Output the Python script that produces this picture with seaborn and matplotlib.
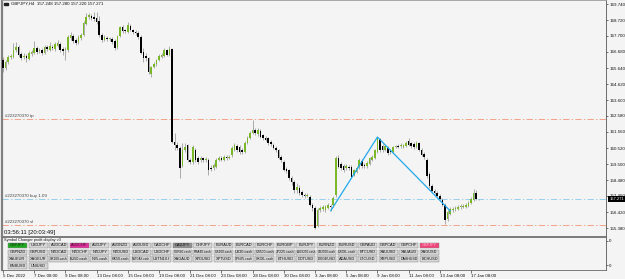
import numpy as np
import matplotlib
matplotlib.use("Agg")
import matplotlib.pyplot as plt
from matplotlib.patches import Rectangle
import seaborn as sns

# ---------------- data ----------------
symbol_title = "GBPJPY,H4  157.248 157.280 157.220 157.271"
timer_text = "03:56:11 [20:03:49]"
order_id = "#223270370"

opens = [166.16, 165.65, 166.03, 166.35, 166.35, 166.80, 166.99, 166.54, 166.35, 166.42,
         166.22, 166.54, 166.61, 166.93, 166.74, 166.80, 166.61, 166.99, 166.80, 166.99,
         166.86, 167.06, 167.18, 166.86, 166.80, 166.80, 167.57, 167.70, 167.44, 167.31,
         167.57, 167.76, 168.46, 168.91, 168.98, 168.91, 168.85, 168.66, 167.76, 167.44,
         167.57, 167.50, 167.50, 167.38, 166.99, 167.70, 168.27, 168.08, 167.95, 168.34,
         168.08, 167.95, 167.89, 167.63, 166.67, 166.42, 166.29, 165.26, 165.71, 165.90,
         166.16, 166.35, 166.42, 166.80, 166.48, 166.86, 160.91, 160.72, 160.53, 159.38,
         160.40, 160.72, 159.76, 159.63, 160.40, 159.89, 159.76, 159.89, 159.76, 159.76,
         159.25, 159.25, 159.31, 159.76, 159.89, 159.76, 159.95, 159.89, 160.08, 160.40,
         160.66, 160.59, 160.40, 160.27, 160.85, 161.17, 161.49, 161.68, 161.42, 161.62,
         161.36, 161.17, 161.17, 160.91, 160.72, 160.53, 160.40, 159.95, 159.63, 159.18,
         159.12, 158.61, 158.35, 157.84, 157.97, 157.71, 157.52, 157.46, 157.39, 156.88,
         156.69, 155.54, 156.56, 156.62, 156.56, 156.69, 156.82, 156.88, 157.52, 159.89,
         159.50, 159.38, 159.25, 159.31, 159.31, 158.80, 158.99, 159.31, 159.70, 159.44,
         159.38, 159.50, 159.76, 159.89, 160.27, 161.10, 160.66, 160.40, 160.53, 160.34,
         160.27, 160.59, 160.66, 160.66, 160.59, 160.66, 160.98, 160.85, 160.78, 160.59,
         160.85, 160.40, 160.14, 159.76, 158.86, 158.10, 157.78, 157.65, 157.46, 157.20,
         156.88, 155.98, 156.30, 156.56, 156.62, 156.62, 156.75, 156.75, 156.75, 156.82,
         157.01, 157.20, 157.65, 157.248]
highs = [166.35, 166.16, 166.48, 166.54, 167.25, 167.31, 167.12, 166.67, 166.61, 166.54,
         166.74, 166.80, 167.38, 167.06, 166.93, 166.93, 167.12, 167.12, 167.31, 167.12,
         167.31, 167.44, 167.31, 166.99, 166.99, 167.76, 167.95, 167.82, 167.57, 167.76,
         167.89, 168.66, 169.17, 169.17, 169.10, 169.23, 169.23, 168.98, 167.89, 167.76,
         167.70, 167.63, 167.63, 167.50, 167.76, 168.34, 168.40, 168.14, 168.59, 168.46,
         168.14, 168.08, 168.02, 167.76, 166.93, 166.61, 166.35, 165.78, 166.03, 166.22,
         166.54, 166.61, 166.93, 166.86, 167.06, 166.93, 161.49, 160.91, 160.66, 160.85,
         160.85, 160.78, 159.89, 160.72, 160.53, 160.02, 160.02, 159.95, 159.95, 159.89,
         159.44, 159.57, 159.89, 160.02, 160.02, 160.08, 160.08, 160.08, 160.66, 160.85,
         160.78, 160.72, 160.53, 160.98, 161.30, 161.62, 162.32, 161.81, 161.81, 161.74,
         161.42, 161.30, 161.23, 161.04, 160.85, 160.66, 160.46, 160.08, 159.76, 159.31,
         159.18, 158.74, 158.48, 158.29, 158.16, 157.84, 157.65, 157.65, 157.52, 157.01,
         156.82, 156.69, 156.82, 156.88, 156.88, 157.01, 156.94, 157.46, 160.02, 160.08,
         159.63, 159.50, 159.50, 159.44, 159.44, 159.18, 159.38, 159.89, 159.82, 159.57,
         159.70, 159.95, 160.08, 160.46, 161.23, 161.17, 160.78, 160.72, 160.66, 160.46,
         160.66, 160.72, 160.78, 160.85, 160.78, 160.98, 161.17, 160.91, 160.91, 160.98,
         160.91, 160.53, 160.27, 159.89, 158.99, 158.22, 157.90, 157.78, 157.58, 157.33,
         157.01, 156.56, 156.75, 156.75, 156.82, 156.88, 156.94, 156.94, 157.01, 157.14,
         157.39, 157.90, 157.84, 157.280]
lows = [165.39, 165.52, 165.90, 166.22, 166.29, 166.67, 166.35, 166.16, 166.22, 166.03,
        166.16, 166.42, 166.54, 166.54, 166.61, 166.48, 166.54, 166.74, 166.74, 166.80,
        166.74, 166.99, 166.67, 166.48, 166.16, 166.67, 167.44, 167.25, 167.12, 167.18,
        167.44, 167.70, 168.40, 168.78, 168.72, 168.66, 168.46, 167.63, 167.31, 167.38,
        167.38, 167.38, 167.18, 166.80, 166.86, 167.63, 167.89, 167.89, 167.89, 168.02,
        167.82, 167.76, 167.50, 166.54, 166.03, 166.10, 165.26, 165.07, 165.65, 165.78,
        166.10, 166.29, 166.35, 166.42, 166.42, 160.85, 160.40, 160.40, 158.61, 159.31,
        160.27, 159.63, 159.50, 159.50, 159.63, 159.50, 159.63, 159.63, 159.63, 158.80,
        159.06, 159.12, 159.25, 159.70, 159.70, 159.70, 159.76, 159.82, 159.95, 160.34,
        160.27, 160.14, 160.14, 160.21, 160.78, 161.10, 161.42, 161.36, 161.30, 161.17,
        161.04, 160.98, 160.72, 160.66, 160.46, 160.27, 159.82, 159.63, 159.06, 158.93,
        158.48, 158.16, 157.65, 157.65, 157.52, 157.39, 157.33, 157.39, 156.82, 156.50,
        155.34, 155.47, 156.43, 156.50, 156.43, 156.62, 156.50, 156.75, 157.39, 159.25,
        159.12, 158.99, 159.12, 159.12, 158.61, 158.74, 158.93, 159.18, 159.25, 159.25,
        159.25, 159.44, 159.70, 159.82, 160.21, 160.27, 160.27, 160.34, 160.08, 160.14,
        160.21, 160.53, 160.53, 160.53, 160.53, 160.59, 160.66, 160.53, 160.46, 160.53,
        160.34, 160.02, 159.82, 158.61, 157.97, 157.71, 157.58, 157.39, 157.20, 156.82,
        155.66, 155.86, 156.24, 156.43, 156.50, 156.56, 156.62, 156.69, 156.69, 156.75,
        156.94, 157.14, 157.20, 157.220]
closes = [165.65, 166.03, 166.35, 166.42, 166.80, 166.99, 166.48, 166.29, 166.42, 166.29,
          166.61, 166.67, 166.93, 166.67, 166.80, 166.61, 166.99, 166.86, 167.06, 166.93,
          167.18, 167.25, 166.80, 166.74, 166.86, 167.63, 167.76, 167.38, 167.25, 167.63,
          167.76, 168.53, 168.91, 169.04, 168.85, 168.78, 168.59, 167.76, 167.44, 167.63,
          167.50, 167.57, 167.31, 166.93, 167.70, 168.27, 168.02, 168.02, 168.40, 168.08,
          167.95, 167.89, 167.63, 166.61, 166.29, 166.29, 165.39, 165.71, 165.90, 166.16,
          166.42, 166.48, 166.80, 166.48, 166.86, 160.91, 160.72, 160.53, 159.25, 160.40,
          160.59, 159.76, 159.63, 160.59, 159.76, 159.63, 159.89, 159.76, 159.82, 159.12,
          159.18, 159.44, 159.76, 159.89, 159.76, 159.95, 159.89, 159.95, 160.53, 160.72,
          160.40, 160.27, 160.27, 160.85, 161.17, 161.49, 161.68, 161.49, 161.68, 161.23,
          161.17, 161.04, 160.85, 160.78, 160.53, 160.40, 159.89, 159.76, 159.12, 159.06,
          158.61, 158.35, 157.84, 158.03, 157.65, 157.52, 157.46, 157.52, 156.88, 156.69,
          155.41, 156.56, 156.69, 156.75, 156.75, 156.88, 156.75, 157.33, 159.89, 159.31,
          159.25, 159.12, 159.38, 159.25, 158.67, 159.12, 159.25, 159.76, 159.38, 159.38,
          159.57, 159.89, 159.95, 160.40, 161.17, 160.40, 160.40, 160.66, 160.21, 160.27,
          160.59, 160.66, 160.59, 160.72, 160.72, 160.85, 160.72, 160.66, 160.59, 160.85,
          160.40, 160.08, 159.95, 158.74, 158.10, 157.78, 157.65, 157.46, 157.26, 156.88,
          155.92, 156.43, 156.62, 156.62, 156.69, 156.75, 156.82, 156.82, 156.88, 157.01,
          157.26, 157.65, 157.26, 157.271]

date_labels = ["5 Dec 2022", "7 Dec 08:00", "9 Dec 08:00", "13 Dec 08:00", "15 Dec 08:00",
               "19 Dec 08:00", "21 Dec 08:00", "23 Dec 08:00", "28 Dec 08:00", "30 Dec 08:00",
               "3 Jan 08:00", "5 Jan 08:00", "9 Jan 08:00", "11 Jan 08:00", "13 Jan 08:00",
               "17 Jan 08:00"]
bars_per_label = 12

price_ticks = [169.740, 168.720, 167.700, 166.680, 165.640, 164.620, 163.600, 162.580,
               161.560, 160.520, 159.500, 158.480, 157.460, 156.420, 155.380]
current_price = 157.271
tp_price = 162.38
buy_price = 157.26
sl_price = 155.60
buy_text = "buy 1.09"

zigzag_bar = [126, 144, 172]
zigzag_price = [156.50, 161.23, 156.50]

button_rows = [
    ["GBPJPY", "USDJPY", "AUDCAD", "AUDCHF", "AUDJPY", "AUDNZD", "AUDUSD", "CADCHF", "CADJPY",
     "CHFJPY", "EURAUD", "EURCAD", "EURCHF", "EURGBP", "EURJPY", "EURNZD", "EURUSD", "GBPAUD",
     "GBPCAD", "GBPCHF", "GBPJPY"],
    ["GBPNZD", "GBPUSD", "NZDCAD", "NZDCHF", "NZDJPY", "NZDUSD", "USDCAD", "USDCHF", "GER40.cash",
     "FRA40.cash", "US100.cash", "US30.cash", "US500.cash", "JP225.cash", "AUS200.cash",
     "US2000.cash", "USOIL.cash", "BTCUSD", "XAUUSD", "XAUAUD", "XAGUSD"],
    ["XAUEUR", "XAGEUR", "UK100.cash", "EU50.cash", "N25.cash", "HK50.cash", "NATGAS.cash",
     "USTN10.f", "XAGAUD", "XPDUSD", "XPTUSD", "SPN35.cash", "UKOIL.cash", "ETHUSD", "DOTUSD",
     "DOGEUSD", "ADAUSD", "LTCUSD", "XRPUSD", "DASHUSD", "BCHUSD"],
    ["BNBUSD", "UNIUSD"],
]
button_highlights = {(0, 0): ("#22A722", "#0b2a0b"), (0, 3): ("#E0309C", "#3a0a25"),
                     (0, 8): ("#8E8E8E", "#111111"), (0, 20): ("#F0457A", "#FFC0D0")}
panel_title = "Symbol Changer profit display v3"

# ---------------- style ----------------
BG = "#F4F4F4"
BULL = "#7AB82A"
BEAR = "#000000"
WICK = "#8E8E8E"
LEVEL_RED = "#F29C82"
LEVEL_BLUE = "#92CDEC"
ZZ = "#22A9EE"
TXT = "#111111"
FS = 3.2

sns.set_theme(style="white", rc={"axes.facecolor": BG, "figure.facecolor": BG})
plt.rcParams["font.family"] = ["Liberation Sans", "DejaVu Sans"]

fig = plt.figure(figsize=(6.25, 2.79), dpi=100)
fig.patch.set_facecolor(BG)


def box(x0, y0, x1, y1):
    return [x0 / 625, 1 - y1 / 279, (x1 - x0) / 625, (y1 - y0) / 279]


ax = fig.add_axes(box(2, 0, 606, 236))
ax2 = fig.add_axes(box(2, 237, 606, 270))
ax3 = fig.add_axes(box(2, 237, 606, 270))

XLIM = (-0.385, 231.9)

# ---------------- candles ----------------
o = np.array(opens)
h = np.array(highs)
l = np.array(lows)
c = np.array(closes)
idx = np.arange(len(c))
up = c >= o
ax.vlines(idx, l, h, color=WICK, lw=0.5, zorder=2)
bottom = np.minimum(o, c)
height = np.maximum(np.abs(c - o), 0.025)
ax.bar(idx[up], height[up], bottom=bottom[up], width=0.65, color=BULL, lw=0, zorder=3)
ax.bar(idx[~up], height[~up], bottom=bottom[~up], width=0.65, color=BEAR, lw=0, zorder=3)

# zigzag trend line
sns.lineplot(x=zigzag_bar, y=zigzag_price, ax=ax, color=ZZ, linewidth=0.9, sort=False,
             legend=False, zorder=4)

# order levels
dash = (0, (7, 2.5, 1.5, 2.5))
ax.axhline(tp_price, color=LEVEL_RED, lw=0.65, ls=dash, zorder=1)
ax.axhline(buy_price, color=LEVEL_BLUE, lw=0.65, ls=dash, zorder=1)
ax.axhline(sl_price, color=LEVEL_RED, lw=0.65, ls=dash, zorder=1)
ytr = ax.get_yaxis_transform()
for price, lab in [(tp_price, "tp"), (buy_price, buy_text), (sl_price, "sl")]:
    ax.text(3 / 604, price + 0.05, f"{order_id} {lab}", transform=ytr, fontsize=FS,
            color="#444444", va="bottom", ha="left")

ax.set_xlim(*XLIM)
ax.set_ylim(154.896, 170.0)
ax.set_xticks([])
ax.set_xlabel("")
ax.set_ylabel("")
ax.yaxis.tick_right()
ax.set_yticks(price_ticks)
ax.set_yticklabels([f"{v:.3f}" for v in price_ticks])
ax.tick_params(axis="y", right=True, left=False, length=1.5, width=0.4, pad=0.9,
               labelsize=FS, labelcolor=TXT, color=TXT, direction="out")
for side, col, lw in [("top", "#9A9A9A", 0.6), ("left", "#7F7F7F", 1.6),
                      ("right", "#555555", 0.6), ("bottom", "#666666", 0.6)]:
    ax.spines[side].set_visible(True)
    ax.spines[side].set_color(col)
    ax.spines[side].set_linewidth(lw)

# current price tag
ax.text(1.0055, current_price, f"{current_price:.3f}", transform=ytr, fontsize=3.0,
        color="white", va="center", ha="left", clip_on=False, zorder=10,
        bbox=dict(boxstyle="square,pad=0.2", fc="black", ec="black", lw=0))

# header
ax.add_patch(Rectangle((1.5 / 604, 1 - 5.2 / 236), 4 / 604, 2 / 236, transform=ax.transAxes,
                       color="#222222", clip_on=False))
ax.text(9 / 604, 1 - 4 / 236, symbol_title, transform=ax.transAxes, fontsize=FS,
        va="center", ha="left", color="#111111")
fig.text(4 / 625, 1 - 232.5 / 279, timer_text, fontsize=4.3, va="center", ha="left",
         color="#111111")

# ---------------- sub window ----------------
ax2.set_xlim(*XLIM)
ax2.set_ylim(0, 1)
label_pos = [bars_per_label * i for i in range(len(date_labels))]
ax2.set_xticks(label_pos)
ax2.set_xticklabels(date_labels, ha="left")
ax2.tick_params(axis="x", bottom=True, length=2, width=0.4, pad=1.0, labelsize=FS,
                labelcolor=TXT, color=TXT, direction="out")
ax2.yaxis.tick_right()
ax2.set_yticks([0.15, 0.88])
ax2.set_yticklabels(["0", "0"])
ax2.tick_params(axis="y", right=True, left=False, length=1.5, width=0.4, pad=0.9,
                labelsize=FS, labelcolor=TXT, color=TXT)
for side, col, lw in [("top", "#666666", 0.6), ("left", "#7F7F7F", 1.6),
                      ("right", "#555555", 0.6), ("bottom", "#666666", 0.6)]:
    ax2.spines[side].set_visible(True)
    ax2.spines[side].set_color(col)
    ax2.spines[side].set_linewidth(lw)

# buttons overlay
ax3.set_xlim(0, 604)
ax3.set_ylim(33, 0)
ax3.axis("off")
ax3.patch.set_alpha(0)
ax3.text(2, 2.6, panel_title, fontsize=2.8, va="center", ha="left", color="#111111")
row_centers = [8.5, 15.35, 22.2, 29.05]
BTN_W = 19.0
renderer = fig.canvas.get_renderer()
for r, row in enumerate(button_rows):
    for j, name in enumerate(row):
        x0 = 6 + j * 20.6
        yc = row_centers[r]
        fc, tc = button_highlights.get((r, j), ("#D6D6D6", "#111111"))
        rect = Rectangle((x0, yc - 2.8), BTN_W, 5.6, fc=fc, ec="#8A8A8A", lw=0.35)
        ax3.add_patch(rect)
        t = ax3.text(x0 + BTN_W / 2, yc, name, fontsize=2.8, ha="center", va="center",
                     color=tc)
        w = t.get_window_extent(renderer).width
        limit = BTN_W - 1.0
        if w > limit:
            t.set_fontsize(2.8 * limit / w)

fig.savefig("out.png", dpi=100, facecolor=BG)
